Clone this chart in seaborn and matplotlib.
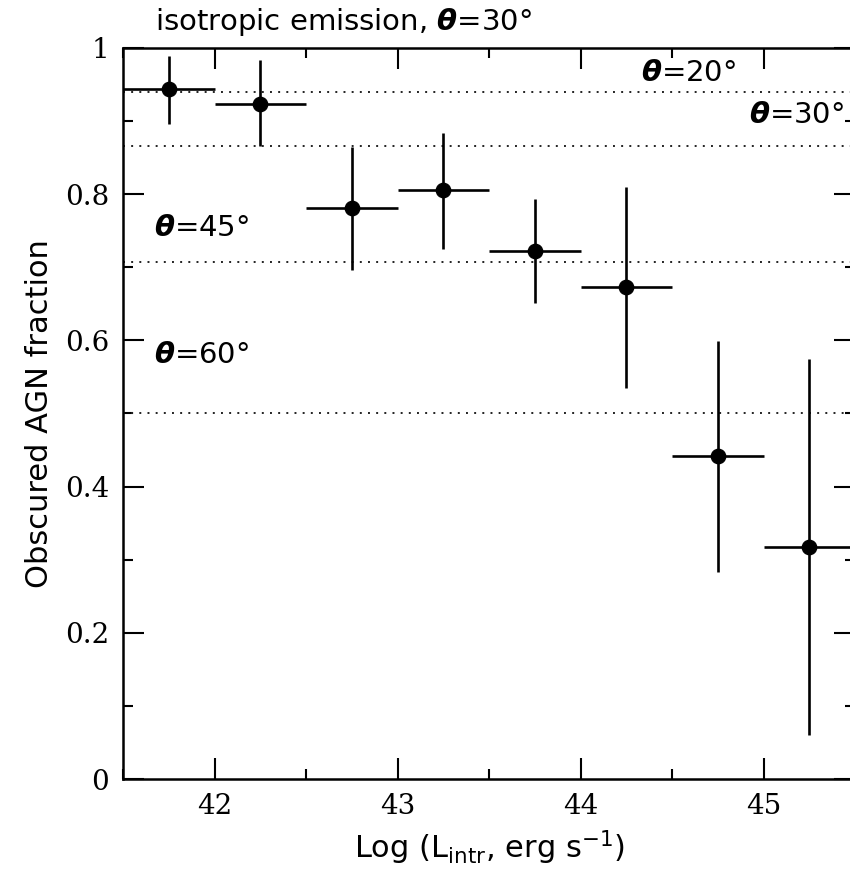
import numpy as np
import pandas as pd
import matplotlib
matplotlib.use("Agg")
import matplotlib.pyplot as plt
from matplotlib.ticker import MultipleLocator
import seaborn as sns

# binned obscured fraction vs intrinsic luminosity
log_l = [41.75, 42.25, 42.75, 43.25, 43.75, 44.25, 44.75, 45.25]
frac = [0.944, 0.923, 0.781, 0.806, 0.722, 0.673, 0.442, 0.318]
frac_hi = [0.989, 0.983, 0.865, 0.884, 0.793, 0.810, 0.599, 0.575]
frac_lo = [0.896, 0.866, 0.696, 0.725, 0.651, 0.535, 0.283, 0.060]
bin_half = [0.25] * 8

# opening angles of the reference lines (fraction = cos theta)
theta_deg = [20, 30, 45, 60]
theta_label_x = [44.33, 44.92, 41.67, 41.67]
theta_label_y = [0.955, 0.898, 0.743, 0.569]

df = pd.DataFrame({'log_l': log_l, 'frac': frac})
yerr = np.array([np.array(frac) - np.array(frac_lo), np.array(frac_hi) - np.array(frac)])

sns.set_theme(style='ticks')
plt.rcParams['font.family'] = ['DejaVu Sans']
plt.rcParams['mathtext.fontset'] = 'dejavusans'
plt.rcParams.update({'text.color': 'black', 'axes.labelcolor': 'black',
                     'xtick.color': 'black', 'ytick.color': 'black'})

fig = plt.figure(figsize=(8.5, 8.72), dpi=100)
ax = fig.add_axes([123 / 850, 93 / 872, 732 / 850, 731 / 872])

for t in theta_deg:
    ax.axhline(np.cos(np.radians(t)), color='#222222', lw=1.4, ls=(0, (1, 3.2)), zorder=1)

ax.errorbar(log_l, frac, xerr=bin_half, yerr=yerr, fmt='none',
            ecolor='black', elinewidth=1.9, capsize=0, zorder=2)
sns.scatterplot(data=df, x='log_l', y='frac', ax=ax, color='black', s=110,
                edgecolor='black', zorder=3, legend=False)

for t, tx, ty in zip(theta_deg, theta_label_x, theta_label_y):
    ax.text(tx, ty, r'$\boldsymbol{\theta}$=' + f'{t}°', fontsize=21, ha='left', va='baseline')

ax.set_xlim(41.5, 45.5)
ax.set_ylim(0, 1)
ax.xaxis.set_major_locator(MultipleLocator(1))
ax.xaxis.set_minor_locator(MultipleLocator(0.5))
ax.yaxis.set_major_locator(MultipleLocator(0.2))
ax.yaxis.set_minor_locator(MultipleLocator(0.1))
ax.set_yticks([0, 0.2, 0.4, 0.6, 0.8, 1.0])
ax.set_yticklabels(['0', '0.2', '0.4', '0.6', '0.8', '1'])
ax.tick_params(which='both', direction='in', top=True, right=True, width=1.5)
ax.tick_params(which='major', length=15, labelsize=20, pad=10)
ax.tick_params(which='minor', length=7.5)
for lab in ax.get_xticklabels() + ax.get_yticklabels():
    lab.set_family('DejaVu Serif')
for sp in ax.spines.values():
    sp.set_linewidth(1.8)
    sp.set_color('black')

ax.set_xlabel(r'Log (L$_{\rm intr}$, erg s$^{-1}$)', fontsize=22, labelpad=6)
ax.set_ylabel('Obscured AGN fraction', fontsize=22, labelpad=8)
fig.text(155 / 850, 1 - 30 / 872, r'isotropic emission, $\boldsymbol{\theta}$=30°',
         fontsize=21, ha='left', va='baseline')

fig.savefig('out.png', dpi=100)
